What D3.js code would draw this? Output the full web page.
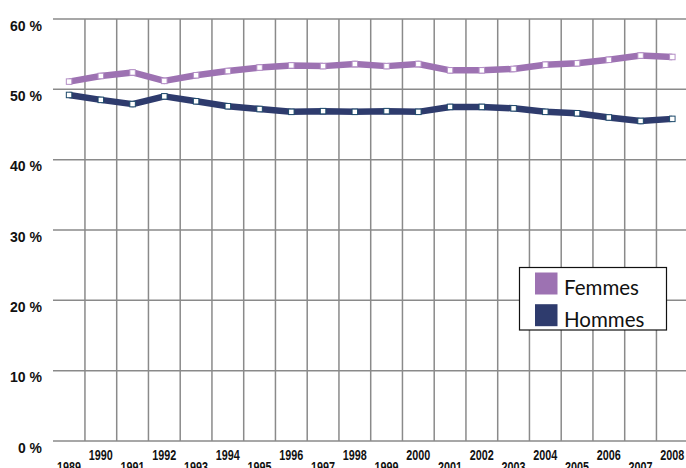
<!DOCTYPE html>
<html><head><meta charset="utf-8">
<script src="https://cdn.jsdelivr.net/npm/d3@7"></script>
<style>html,body{margin:0;padding:0;background:#fff;overflow:hidden}</style>
</head><body>
<svg id="chart" width="686" height="468"></svg>
<script>
const years = [1989,1990,1991,1992,1993,1994,1995,1996,1997,1998,1999,2000,2001,2002,2003,2004,2005,2006,2007,2008];
const femmes = [51.1,51.9,52.4,51.2,52.0,52.6,53.1,53.4,53.3,53.6,53.3,53.6,52.7,52.7,52.9,53.5,53.7,54.2,54.8,54.6];
const hommes = [49.2,48.5,47.9,49.0,48.3,47.6,47.2,46.8,46.9,46.8,46.9,46.8,47.5,47.5,47.3,46.8,46.6,46.0,45.5,45.8];
const yTicks = [0,10,20,30,40,50,60];
const seriesNames = ["Femmes","Hommes"];
const seriesColors = ["#9d72b2","#2e3b6d"];
const markerStroke = ["#b48fc6","#1d4a6b"];

const svg = d3.select("#chart");
const x = d3.scaleBand().domain(years).range([53.2, 688.2]);
const y = d3.scaleLinear().domain([0,60]).range([441,19]);

// horizontal grid
svg.append("g").selectAll("line").data(yTicks).join("line")
  .attr("x1",53).attr("x2",686)
  .attr("y1",d=>y(d)).attr("y2",d=>y(d))
  .attr("stroke","#8a8a8a").attr("stroke-width",1.5);
// vertical grid
svg.append("g").selectAll("line").data(years.slice(1)).join("line")
  .attr("x1",d=>x(d)).attr("x2",d=>x(d))
  .attr("y1",y(60)).attr("y2",y(0))
  .attr("stroke","#8a8a8a").attr("stroke-width",1.5);

// y labels
svg.append("g").selectAll("text").data(yTicks).join("text")
  .attr("x",42).attr("y",d=>y(d)+11.5)
  .attr("text-anchor","end")
  .attr("font-family","Liberation Sans, Arial, sans-serif")
  .attr("font-weight","bold").attr("font-size",15)
  .attr("textLength",d=> d>=10 ? 32 : 24).attr("lengthAdjust","spacingAndGlyphs")
  .attr("fill","#111")
  .text(d=>d+" %");

// x labels
svg.append("g").selectAll("text").data(years).join("text")
  .attr("x",d=>x(d)+x.bandwidth()/2)
  .attr("y",(d,i)=> i%2===0 ? 471.5 : 460)
  .attr("text-anchor","middle")
  .attr("font-family","Liberation Sans, Arial, sans-serif")
  .attr("font-weight","bold").attr("font-size",14.5)
  .attr("textLength",24).attr("lengthAdjust","spacingAndGlyphs")
  .attr("fill","#111")
  .text(d=>d);

const line = d3.line().x((d,i)=>x(years[i])+x.bandwidth()/2).y(d=>y(d));
[femmes,hommes].forEach((vals,k)=>{
  svg.append("path").datum(vals)
    .attr("d",line).attr("fill","none")
    .attr("stroke",seriesColors[k]).attr("stroke-width",6.5)
    .attr("stroke-linejoin","round");
  svg.append("g").selectAll("rect").data(vals).join("rect")
    .attr("x",(d,i)=>x(years[i])+x.bandwidth()/2-2.75)
    .attr("y",d=>y(d)-2.75)
    .attr("width",5.5).attr("height",5.5)
    .attr("fill","#fff").attr("stroke",markerStroke[k]).attr("stroke-width",1);
});

// legend
const lg = svg.append("g");
lg.append("rect").attr("x",519.5).attr("y",267.5).attr("width",147).attr("height",62.5)
  .attr("fill","#fff").attr("stroke","#111").attr("stroke-width",1.2);
seriesNames.forEach((n,k)=>{
  lg.append("rect").attr("x",535).attr("y",272.5+k*31.7).attr("width",22.5).attr("height",22)
    .attr("fill",seriesColors[k]);
  lg.append("text").attr("x",564).attr("y",295+k*31.7)
    .attr("font-family","Lato, 'Open Sans', sans-serif").attr("font-size",20.5)
    .attr("fill","#111").text(n);
});
</script>
</body></html>
